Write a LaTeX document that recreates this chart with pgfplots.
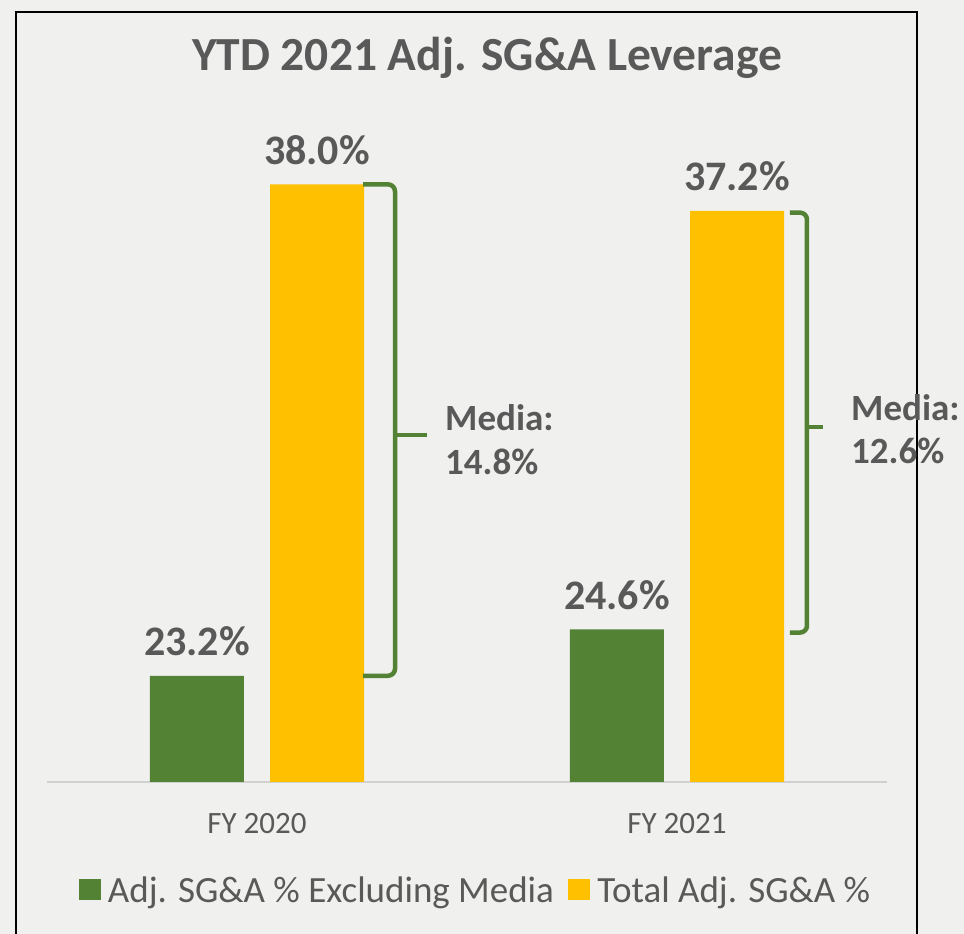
\documentclass[border=0pt]{standalone}
\usepackage{fontspec}
\setmainfont{Carlito}
\usepackage{pgfplots}
\pgfplotsset{compat=1.18}
\definecolor{dgreen}{HTML}{548235}
\definecolor{gold}{HTML}{FFC000}
\definecolor{txt}{HTML}{595959}
\definecolor{paper}{HTML}{F0F0EE}
\begin{document}
\begin{tikzpicture}[x=1pt,y=1pt]
\fill[paper] (0,0) rectangle (964,934);
\begin{scope}
\clip (0,0) rectangle (964,934);
\draw[black, line width=1.5pt] (16,-10) rectangle (917,922);
\end{scope}
\node[txt, font=\fontsize{47.5}{56}\selectfont\bfseries] at (487,876) {YTD 2021 Adj. SG\&A Leverage};
\begin{axis}[at={(47pt,152pt)}, anchor=south west, scale only axis,
  width=840pt, height=664pt,
  xmin=-0.5, xmax=1.5, ymin=20, ymax=40,
  clip mode=individual,
  axis y line=none, axis x line*=bottom,
  x axis line style={draw=black!18, line width=2pt, -},
  xtick={0,1}, xticklabels={FY 2020, FY 2021},
  major tick length=0pt,
  xticklabel style={font=\fontsize{31}{37}\selectfont, text=txt, anchor=base, yshift=-52pt},
  legend style={at={(0.510,-0.164)}, anchor=center, draw=none, fill=none,
    font=\fontsize{37}{44}\selectfont, text=txt, legend columns=2,
    /tikz/every odd column/.append style={column sep=6pt},
    /tikz/every even column/.append style={column sep=12pt},
    inner sep=0pt, row sep=0pt},
  legend cell align=left,
  point meta=y,
  nodes near coords style={font=\fontsize{42}{48}\selectfont\bfseries, text=txt, anchor=base, yshift=20pt},
]
\addlegendimage{legend image code/.code={\fill[dgreen] (0pt,-8pt) rectangle (21pt,12pt);}}
\addlegendentry{Adj. SG\&A \% Excluding Media}
\addlegendimage{legend image code/.code={\fill[gold] (0pt,-8pt) rectangle (21pt,12pt);}}
\addlegendentry{Total Adj. SG\&A \%}
% Total Adj. SG&A %
\addplot[ybar, forget plot, bar width=0.2238, bar shift=0, fill=gold, draw=none,
  nodes near coords={\pgfmathprintnumber[fixed,fixed zerofill,precision=1,assume math mode=true]{\pgfplotspointmeta}\%}]
  coordinates {(0.1429,38.0) (1.1429,37.2)};
% Adj. SG&A % Excluding Media
\addplot[ybar, forget plot, bar width=0.2238, bar shift=0, fill=dgreen, draw=none,
  nodes near coords={\pgfmathprintnumber[fixed,fixed zerofill,precision=1,assume math mode=true]{\pgfplotspointmeta}\%}]
  coordinates {(-0.1429,23.2) (0.8571,24.6)};
% brackets
\draw[dgreen, line width=4.5pt, rounded corners=7pt] (axis cs:0.2524,38.0) -- (axis cs:0.3286,38.0) -- (axis cs:0.3286,23.2) -- (axis cs:0.2524,23.2);
\draw[dgreen, line width=4.5pt] (axis cs:0.3286,30.45) -- (axis cs:0.4048,30.45);
\draw[dgreen, line width=4.5pt, rounded corners=7pt] (axis cs:1.269,37.15) -- (axis cs:1.3095,37.15) -- (axis cs:1.3095,24.5) -- (axis cs:1.269,24.5);
\draw[dgreen, line width=4.5pt] (axis cs:1.3095,30.69) -- (axis cs:1.3476,30.69);
\begin{scope}[every node/.style={txt, font=\fontsize{37}{45}\selectfont\bfseries, anchor=base west, inner sep=0pt}]
\node at (axis cs:0.4476,30.6) {Media:};
\node at (axis cs:0.4476,29.25) {14.8\%};
\node at (axis cs:1.4143,30.9) {Media:};
\node at (axis cs:1.4143,29.6) {12.6\%};
\end{scope}
\end{axis}
\end{tikzpicture}
\end{document}
